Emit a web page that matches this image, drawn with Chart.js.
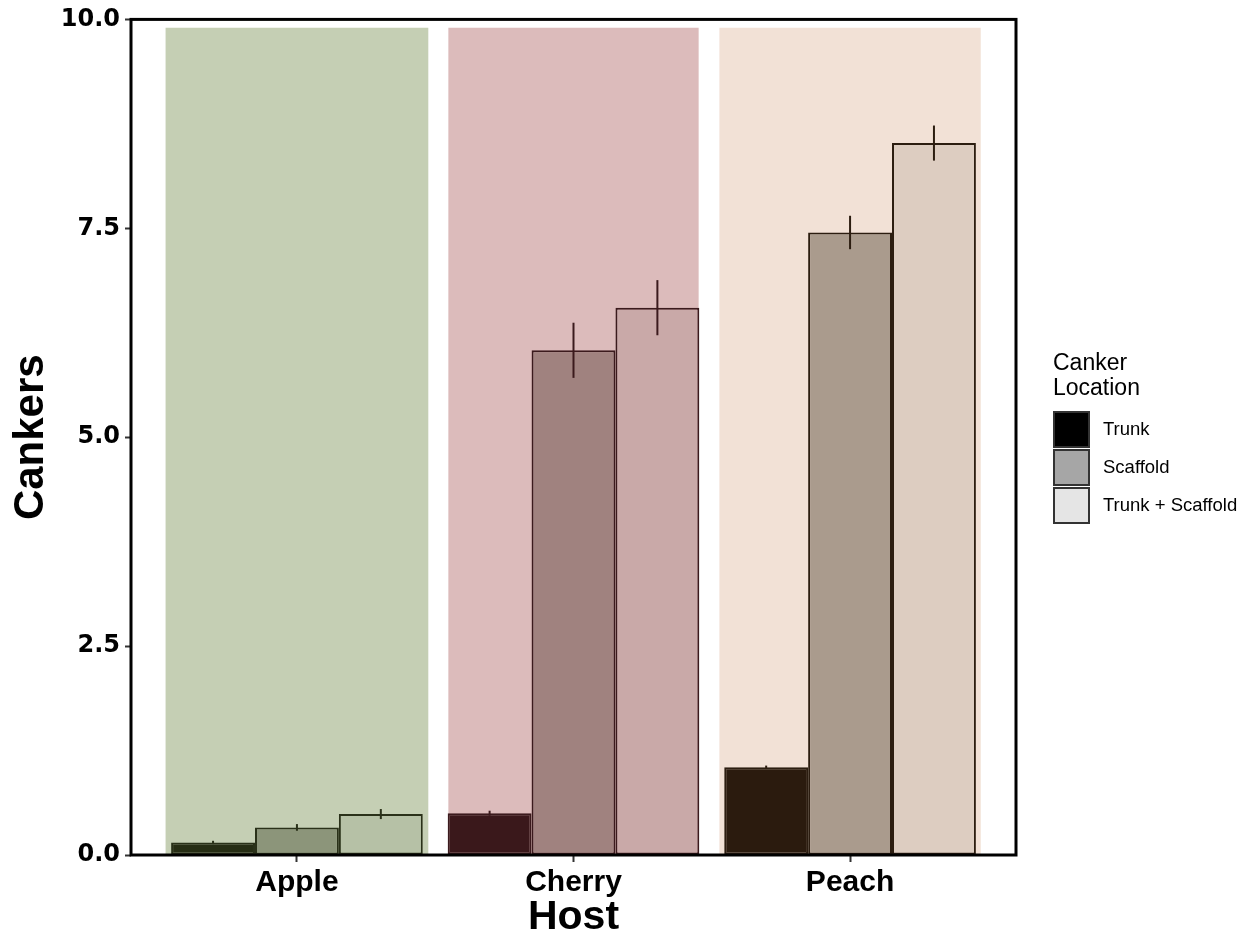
<!DOCTYPE html>
<html>
<head>
<meta charset="utf-8">
<title>Cankers by host</title>
<script src="https://cdn.jsdelivr.net/npm/chart.js@4.4.1/dist/chart.umd.min.js"></script>
<style>
  html, body { margin: 0; padding: 0; background: #ffffff; }
  canvas { display: block; }
</style>
</head>
<body>
<canvas id="chart" width="1258" height="936"></canvas>
<script>
// Mean cankers per tree by host and canker location, with standard errors
const hosts = ['Apple', 'Cherry', 'Peach'];
const locations = ['Trunk', 'Scaffold', 'Trunk + Scaffold'];

const trunkMeans    = [0.15, 0.50, 1.05];
const scaffoldMeans = [0.33, 6.04, 7.45];
const bothMeans     = [0.49, 6.55, 8.52];

const trunkSE    = [0.02, 0.03, 0.02];
const scaffoldSE = [0.04, 0.33, 0.20];
const bothSE     = [0.06, 0.33, 0.21];

// height of the shaded band behind each host group
const bandHeight = [9.9, 9.9, 9.9];

const yTicks = [0, 2.5, 5, 7.5, 10];

// host palettes: band, trunk, scaffold, trunk + scaffold, outline
const bandColors     = ['#c5cfb4', '#dcbbbb', '#f2e1d6'];
const bandWidths     = [0.95, 0.905, 0.945];
const trunkColors    = ['#262d14', '#3a181b', '#2b1b0e'];
const scaffoldColors = ['#8c957a', '#a0827f', '#aa9b8d'];
const bothColors     = ['#b6c1a6', '#c9a9a8', '#ddcdc1'];
const edgeColors     = ['#2a3119', '#3b1a1d', '#2c1d10'];

const legendFills = ['#000000', '#a6a6a6', '#e5e5e5'];

const FONT = '"Liberation Sans", Arial, Helvetica, sans-serif';

const toPoints = vals => vals.map((v, i) => ({ x: i + 1, y: v }));

function barSet(label, vals, errs, fills) {
  return {
    label,
    data: toPoints(vals),
    errors: errs,
    backgroundColor: fills,
    borderColor: edgeColors,
    borderWidth: 2,
    borderSkipped: false,
    categoryPercentage: 0.91,
    barPercentage: 1.0,
    order: 0
  };
}

// one shaded band per host, sitting behind its group of bars
const bandSets = hosts.map((host, i) => ({
  label: host + ' band',
  data: [{ x: i + 1, y: bandHeight[i] }],
  backgroundColor: bandColors[i],
  borderWidth: 0,
  grouped: false,
  categoryPercentage: bandWidths[i],
  barPercentage: 1.0,
  order: 1
}));

// error bars drawn at each bar centre from the scale
const errorBars = {
  id: 'errorBars',
  afterDatasetsDraw(chart) {
    const { ctx } = chart;
    const yScale = chart.scales.y;
    chart.data.datasets.forEach((ds, di) => {
      if (!ds.errors) return;
      const meta = chart.getDatasetMeta(di);
      meta.data.forEach((el, i) => {
        const v = ds.data[i].y;
        const e = ds.errors[i];
        ctx.save();
        ctx.strokeStyle = edgeColors[i];
        ctx.lineWidth = 2;
        ctx.beginPath();
        ctx.moveTo(el.x, yScale.getPixelForValue(v - e));
        ctx.lineTo(el.x, yScale.getPixelForValue(v + e));
        ctx.stroke();
        ctx.restore();
      });
    });
  }
};

// panel frame round the plotting area
const panelFrame = {
  id: 'panelFrame',
  afterDatasetsDraw(chart) {
    const { ctx, chartArea: a } = chart;
    ctx.save();
    ctx.strokeStyle = '#000000';
    ctx.lineWidth = 3;
    ctx.strokeRect(a.left, a.top, a.right - a.left, a.bottom - a.top);
    ctx.restore();
  }
};

// legend for canker location at the right
const locationLegend = {
  id: 'locationLegend',
  afterDraw(chart) {
    const { ctx } = chart;
    const x0 = 1053;
    ctx.save();
    ctx.fillStyle = '#000000';
    ctx.textAlign = 'left';
    ctx.textBaseline = 'alphabetic';
    ctx.font = '23px ' + FONT;
    ctx.fillText('Canker', x0, 370);
    ctx.fillText('Location', x0, 395);
    ctx.font = '18.5px ' + FONT;
    locations.forEach((name, i) => {
      const top = 411 + i * 38;
      ctx.fillStyle = legendFills[i];
      ctx.fillRect(x0 + 1, top + 1, 35, 35);
      ctx.strokeStyle = '#333333';
      ctx.lineWidth = 2;
      ctx.strokeRect(x0 + 1, top + 1, 35, 35);
      ctx.fillStyle = '#000000';
      ctx.textBaseline = 'middle';
      ctx.fillText(name, 1103, top + 19);
    });
    ctx.restore();
  }
};

new Chart(document.getElementById('chart'), {
  type: 'bar',
  data: {
    datasets: [
      barSet(locations[0], trunkMeans, trunkSE, trunkColors),
      barSet(locations[1], scaffoldMeans, scaffoldSE, scaffoldColors),
      barSet(locations[2], bothMeans, bothSE, bothColors),
      ...bandSets
    ]
  },
  options: {
    responsive: false,
    devicePixelRatio: 1,
    animation: false,
    layout: { padding: { top: 18, right: 242, left: 0, bottom: 0 } },
    plugins: {
      legend: { display: false },
      tooltip: { enabled: false },
      title: { display: false }
    },
    scales: {
      x: {
        type: 'linear',
        min: 0.4,
        max: 3.6,
        offset: false,
        afterBuildTicks(scale) {
          scale.ticks = hosts.map((_, i) => ({ value: i + 1 }));
        },
        afterFit(scale) { scale.height = 81; },
        ticks: {
          autoSkip: false,
          maxRotation: 0,
          padding: 3,
          color: '#000000',
          font: { family: FONT, size: 30, weight: 'bold', lineHeight: 1.2 },
          callback: v => hosts[Math.round(v) - 1] || ''
        },
        grid: {
          display: true,
          offset: false,
          drawOnChartArea: false,
          drawTicks: true,
          tickLength: 7,
          tickColor: '#333333',
          tickWidth: 2
        },
        border: { display: false },
        title: {
          display: true,
          text: 'Host',
          color: '#000000',
          font: { family: FONT, size: 41, weight: 'bold', lineHeight: 1 },
          padding: { top: 0, bottom: -2 }
        }
      },
      y: {
        type: 'linear',
        min: 0,
        max: 10,
        afterBuildTicks(scale) {
          scale.ticks = yTicks.map(v => ({ value: v }));
        },
        afterFit(scale) { scale.width = 131; },
        ticks: {
          padding: 5,
          color: '#000000',
          font: { family: '"DejaVu Sans", sans-serif', size: 24, weight: 'bold' },
          callback: v => Number(v).toFixed(1)
        },
        grid: {
          display: true,
          drawOnChartArea: false,
          drawTicks: true,
          tickLength: 6,
          tickColor: '#333333',
          tickWidth: 2
        },
        border: { display: false },
        title: {
          display: true,
          text: 'Cankers',
          color: '#000000',
          font: { family: FONT, size: 42, weight: 'bold', lineHeight: 1 },
          padding: { top: 10, bottom: 0 }
        }
      }
    }
  },
  plugins: [errorBars, panelFrame, locationLegend]
});
</script>
</body>
</html>
